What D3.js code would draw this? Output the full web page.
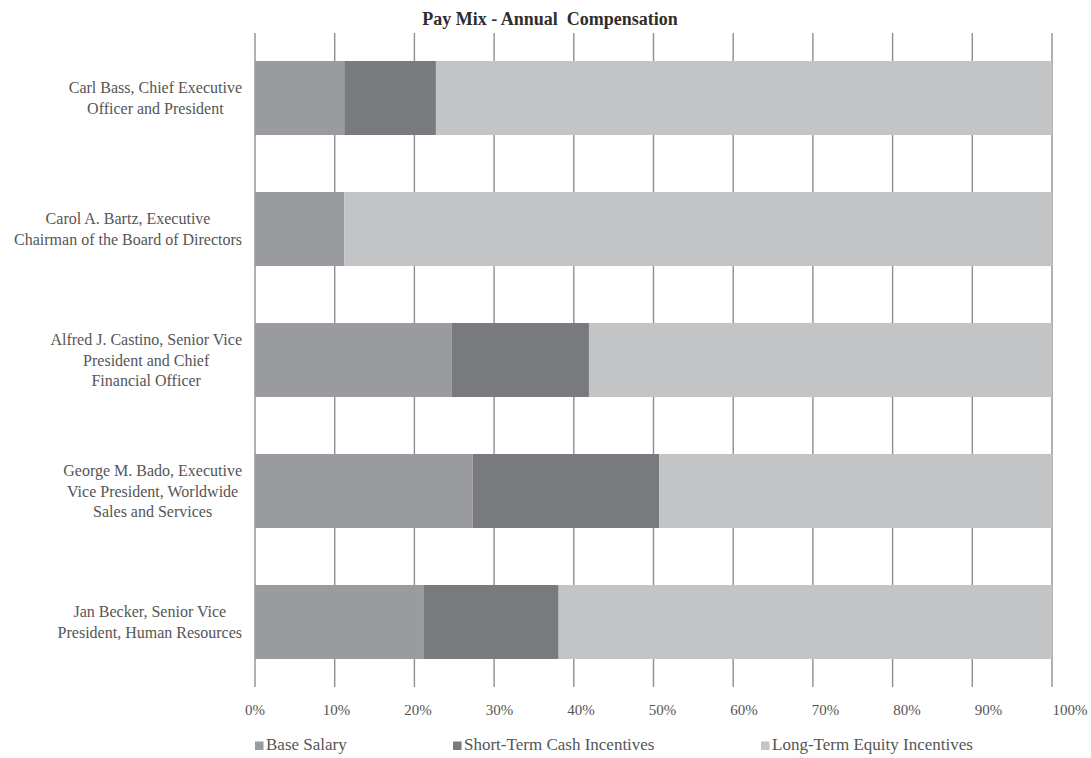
<!DOCTYPE html>
<html>
<head>
<meta charset="utf-8">
<script src="https://cdn.jsdelivr.net/npm/d3@7"></script>
<style>
  html, body { margin: 0; padding: 0; background: #fff; }
  svg { display: block; font-family: "Liberation Serif", "Times New Roman", serif; }
</style>
</head>
<body>
<svg id="chart" width="1091" height="758"></svg>
<script>
// Executives (label lines) and their pay mix, in percent of annual compensation
const executives = [
  ["Carl Bass, Chief Executive", "Officer and President"],
  ["Carol A. Bartz, Executive", "Chairman of the Board of Directors"],
  ["Alfred J. Castino, Senior Vice", "President and Chief", "Financial Officer"],
  ["George M. Bado, Executive", "Vice President, Worldwide", "Sales and Services"],
  ["Jan Becker, Senior Vice", "President, Human Resources"]
];
const baseSalary      = [11.2, 11.2, 24.7, 27.3, 21.2];
const shortTermCash   = [11.5, 0.0, 17.2, 23.4, 16.9];
const longTermEquity  = [77.3, 88.8, 58.1, 49.3, 61.9];

const seriesNames  = ["Base Salary", "Short-Term Cash Incentives", "Long-Term Equity Incentives"];
const seriesColors = ["#9a9b9f", "#797a7e", "#c3c4c6"];
const tickValues   = [0, 10, 20, 30, 40, 50, 60, 70, 80, 90, 100];

const svg = d3.select("#chart");

const plot = { left: 255, right: 1052, top: 32.5, bottom: 687.5 };

const x = d3.scaleLinear().domain([0, 100]).range([plot.left, plot.right]);
// tick captions sit on a slightly wider spread than the gridlines
const xLabel = d3.scaleLinear().domain([0, 100]).range([255, 1070]);
const ids = executives.map((d, i) => i);
const y = d3.scaleBand().domain(ids).range([plot.top, plot.bottom])
  .paddingInner(0.435).paddingOuter(0.2175);

// Title
svg.append("text")
  .attr("x", 550).attr("y", 25)
  .attr("text-anchor", "middle")
  .attr("font-weight", "bold")
  .attr("font-size", 18)
  .attr("fill", "#2e2e2e")
  .style("white-space", "pre")
  .text("Pay Mix - Annual  Compensation");

// Vertical gridlines
svg.append("g").selectAll("line").data(tickValues).join("line")
  .attr("x1", d => x(d)).attr("x2", d => x(d))
  .attr("y1", 33).attr("y2", 687)
  .attr("stroke", "#8e8e8e").attr("stroke-width", 1.4);

// Stacked bars
const rows = ids.map(i => ({ id: i, vals: [baseSalary[i], shortTermCash[i], longTermEquity[i]] }));
const stack = d3.stack().keys([0, 1, 2]).value((d, k) => d.vals[k]);
const layers = stack(rows);

svg.append("g").selectAll("g").data(layers).join("g")
  .attr("fill", (d, i) => seriesColors[i])
  .selectAll("rect").data(d => d).join("rect")
  .attr("x", d => x(d[0]))
  .attr("width", d => x(d[1]) - x(d[0]))
  .attr("y", d => y(d.data.id))
  .attr("height", y.bandwidth());

// Category labels: each block of lines is centred on itself and sits flush
// against the axis side
const lineH = 20.5;
const labelRight = 242;
svg.append("g").selectAll("text").data(ids).join("text")
  .attr("text-anchor", "middle")
  .attr("font-size", 16)
  .attr("fill", "#555")
  .each(function (i) {
    const lines = executives[i];
    const cy = y(i) + y.bandwidth() / 2;
    const start = cy - (lines.length - 1) * lineH / 2 + 5.5;
    const t = d3.select(this);
    const spans = t.selectAll("tspan").data(lines).join("tspan")
      .attr("y", (l, j) => start + j * lineH)
      .text(l => l);
    const maxW = d3.max(spans.nodes(), n => n.getComputedTextLength());
    spans.attr("x", labelRight - maxW / 2);
  });

// X tick labels
svg.append("g").selectAll("text").data(tickValues).join("text")
  .attr("x", d => xLabel(d))
  .attr("y", 715)
  .attr("text-anchor", "middle")
  .attr("font-size", 15)
  .attr("fill", "#555")
  .text(d => d + "%");

// Legend
const legendX = [255, 453, 761];
const lg = svg.append("g").selectAll("g").data(seriesNames).join("g")
  .attr("transform", (d, i) => `translate(${legendX[i]},0)`);
lg.append("rect")
  .attr("x", 0).attr("y", 741.5).attr("width", 8.5).attr("height", 8.5)
  .attr("fill", (d, i) => seriesColors[i]);
lg.append("text")
  .attr("x", 11).attr("y", 750)
  .attr("font-size", 17)
  .attr("fill", "#555")
  .text(d => d);
</script>
</body>
</html>
